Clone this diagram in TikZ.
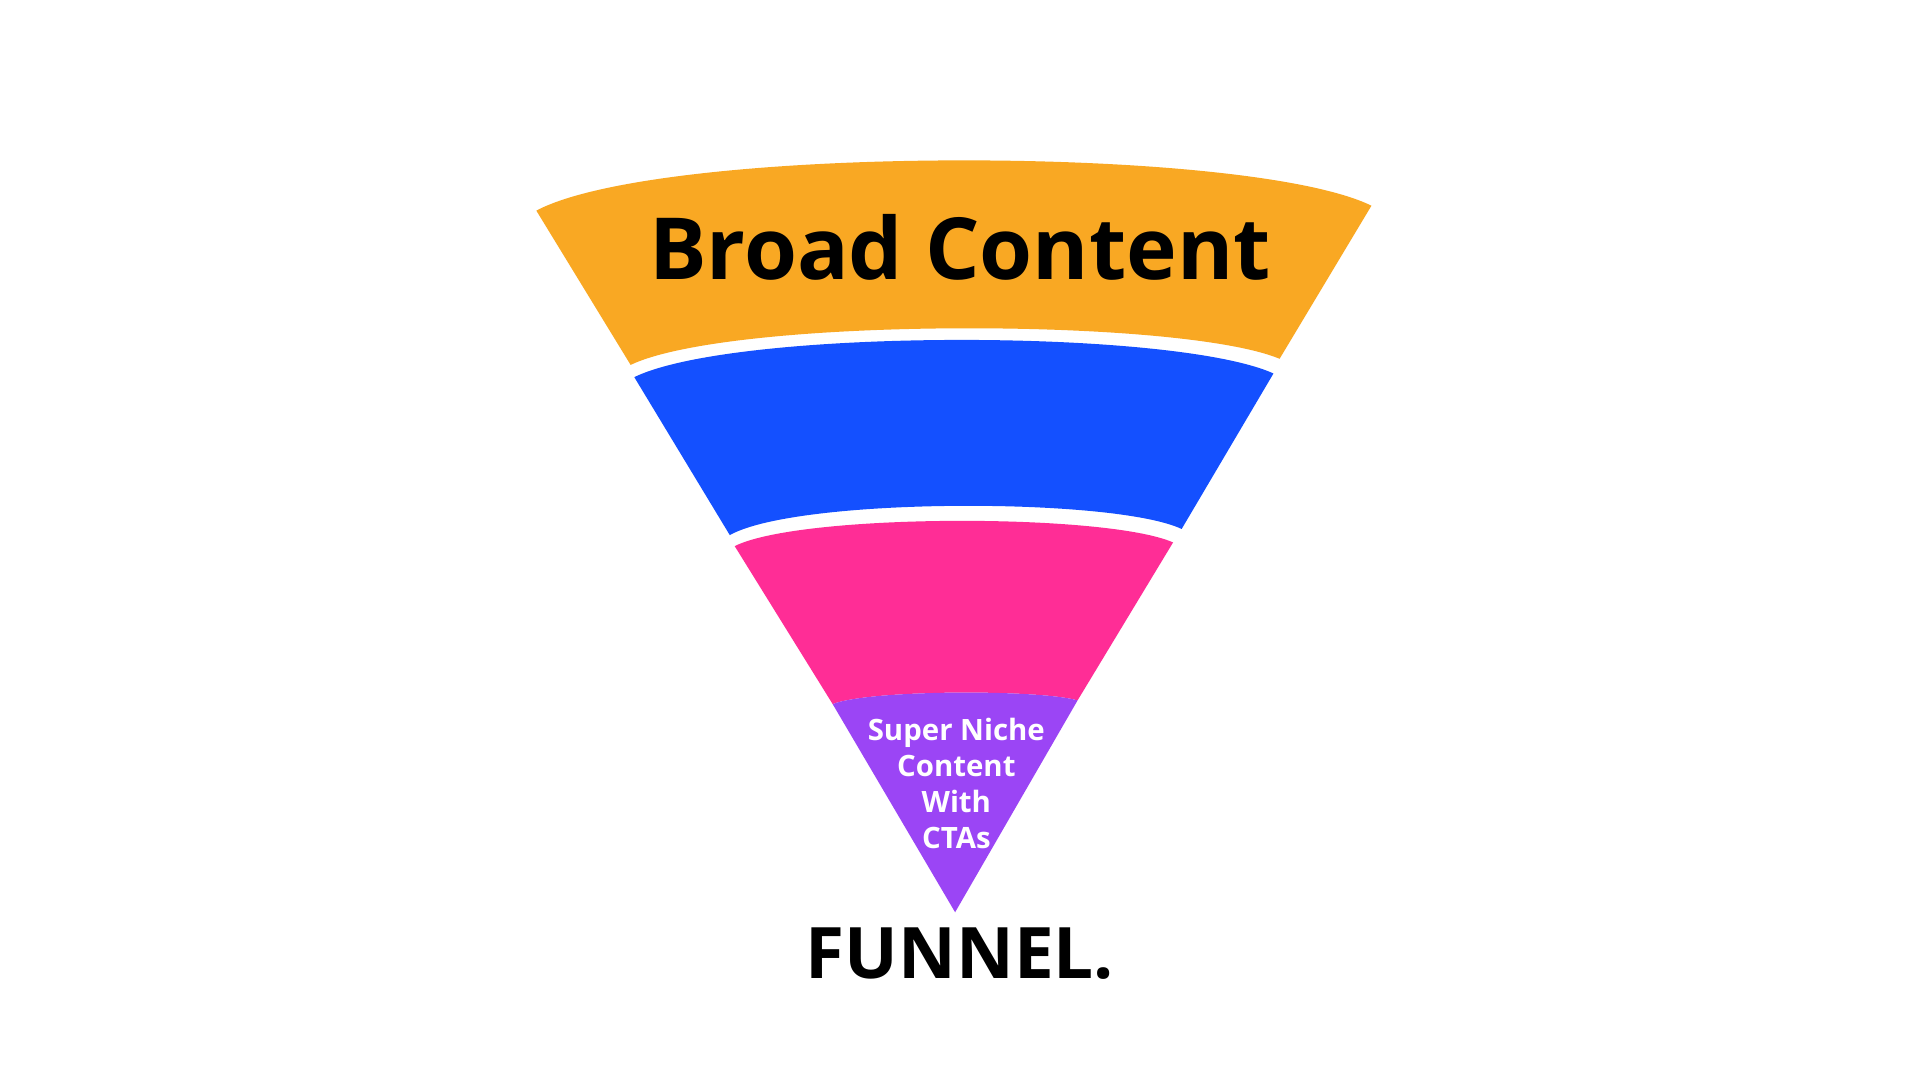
\documentclass[tikz,border=0pt]{standalone}
\usepackage{fontspec}
\setmainfont{Open Sans}
\definecolor{forange}{HTML}{F9A823}
\definecolor{fblue}{HTML}{1450FF}
\definecolor{fpink}{HTML}{FF2D96}
\definecolor{fpurple}{HTML}{9B45F5}
\begin{document}
\begin{tikzpicture}[x=1pt,y=-1pt,
  band/.style={line join=round}]
\useasboundingbox[fill=white] (0,0) rectangle (1568,882);
\fill[forange,band] (438,172) .. controls (540,118) and (1018,118) .. (1120,168)
  -- (1045,293) .. controls (963,259) and (597,259) .. (515,298) -- cycle;
\fill[fblue,band] (518,308) .. controls (600,268) and (958,268) .. (1040,305)
  -- (965,432) .. controls (910,406) and (651,406) .. (596,437) -- cycle;
\fill[fpink,band] (600,446) .. controls (654,419) and (904,419) .. (958,443)
  -- (880,572) .. controls (850,563) and (710,563) .. (680,575) -- cycle;
\fill[fpurple,band] (680,575) .. controls (710,563) and (850,563) .. (880,572)
  -- (780,745) -- cycle;
\node[font=\bfseries\fontsize{70}{80}\selectfont] (broad) at (784,202) {Broad Content};
\node[font=\bfseries\fontsize{24}{29.3}\selectfont, text=white, align=center] (niche) at (781,640) {Super Niche\\Content\\With\\CTAs};
\node[font=\bfseries\fontsize{58}{64}\selectfont] (funnel) at (784,779) {FUNNEL.};
\end{tikzpicture}
\end{document}
